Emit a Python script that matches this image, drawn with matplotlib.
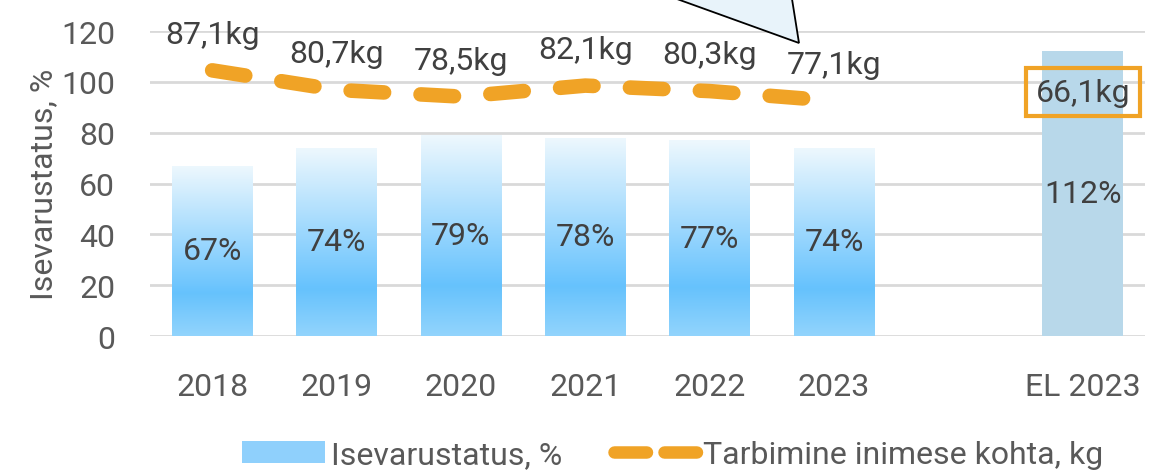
import numpy as np
import matplotlib
matplotlib.use('Agg')
import matplotlib.pyplot as plt
from matplotlib.patches import Polygon, Patch
from matplotlib.lines import Line2D
from matplotlib.colors import LinearSegmentedColormap

plt.rcParams['font.family'] = ['Roboto', 'DejaVu Sans']

# andmed
kategooriad = ['2018', '2019', '2020', '2021', '2022', '2023', '', 'EL 2023']
isevarustatus = [67, 74, 79, 78, 77, 74, None, 112]
tarbimine = [87.1, 80.7, 78.5, 82.1, 80.3, 77.1]
tarbimine_el = 66.1

tekst = '#404040'
oranz = '#f0a326'
fs = 23

fig = plt.figure(figsize=(11.5, 4.77), dpi=100)
ax = fig.add_axes([0.1304, 0.2935, 0.8653, 0.6394])
ax2 = ax.twinx()

x = np.arange(len(kategooriad))
w = 0.65

# gradient bars
cmap = LinearSegmentedColormap.from_list('g', [(0, '#eef8fe'), (0.75, '#66c2fd'), (1, '#92d4fc')])
grad = np.linspace(0, 1, 256).reshape(-1, 1)
for i, v in enumerate(isevarustatus):
    if v is None:
        continue
    if kategooriad[i].startswith('EL'):
        ax.bar(i, v, w, color='#b8d8ea', zorder=2)
    else:
        b = ax.bar(i, v, w, color='none', zorder=2)[0]
        im = ax.imshow(grad, cmap=cmap, aspect='auto', extent=[i - w/2, i + w/2, 0, v],
                       origin='upper', zorder=2)
        im.set_clip_path(b)
    ax.text(i, v/2, f'{v}%', ha='center', va='center', fontsize=fs, color=tekst, zorder=4)

ax.set_xlim(-0.5, 7.5)
ax.set_ylim(0, 120)
ax.set_yticks(range(0, 121, 20))
ax.set_xticks(x)
ax.set_xticklabels(kategooriad)
ax.tick_params(axis='y', labelsize=fs, colors='#595959', length=0, pad=25)
ax.tick_params(axis='x', labelsize=fs, colors='#595959', length=0, pad=26)
ax.grid(axis='y', color='#d9d9d9', lw=2, zorder=0)
ax.set_axisbelow(True)
for s in ax.spines.values():
    s.set_visible(False)
ax.set_ylabel('Isevarustatus, %', fontsize=fs, color='#595959', labelpad=2)

# tarbimine (peidetud teljel)
xs = x[:len(tarbimine)]
ax2.plot(xs, tarbimine, color=oranz, lw=10.5, dashes=(2.3, 2.5), dash_capstyle='round', zorder=3)
ax2.set_ylim(0, 100)
ax2.axis('off')
for xi, t in zip(xs, tarbimine):
    ax2.annotate(f'{t:.1f}kg'.replace('.', ','), (xi, t), xytext=(0, 26), textcoords='offset points',
                 ha='center', va='center', fontsize=fs, color=tekst)
ax.text(7, 96, f'{tarbimine_el:.1f}kg'.replace('.', ','),
        ha='center', va='center', fontsize=fs, color=tekst, zorder=5,
        bbox=dict(boxstyle='square,pad=0.3', fc='none', ec=oranz, lw=3))

# kõnemull (lõigatud ülevalt)
W, H = 1150, 477
tri = Polygon([(677 / W, 1.0), (799 / W, 1 - 44 / H), (792 / W, 1.0)], closed=True,
              transform=fig.transFigure, fc='#e8f3fa', ec='black', lw=1.3, clip_on=False)
fig.patches.append(tri)

# legend
h1 = Patch(facecolor='#8fd0fc', edgecolor='none')
h2 = Line2D([], [], color=oranz, lw=9, dashes=(2.6, 1.4), dash_capstyle='round')
fig.legend([h1, h2], ['Isevarustatus, %', 'Tarbimine inimese kohta, kg'], loc='center',
           bbox_to_anchor=(0.585, 0.045), ncol=2, frameon=False, fontsize=fs,
           labelcolor='#595959', handlelength=2.6, handletextpad=0.2, columnspacing=1.6)

fig.savefig('out.png', dpi=100)
